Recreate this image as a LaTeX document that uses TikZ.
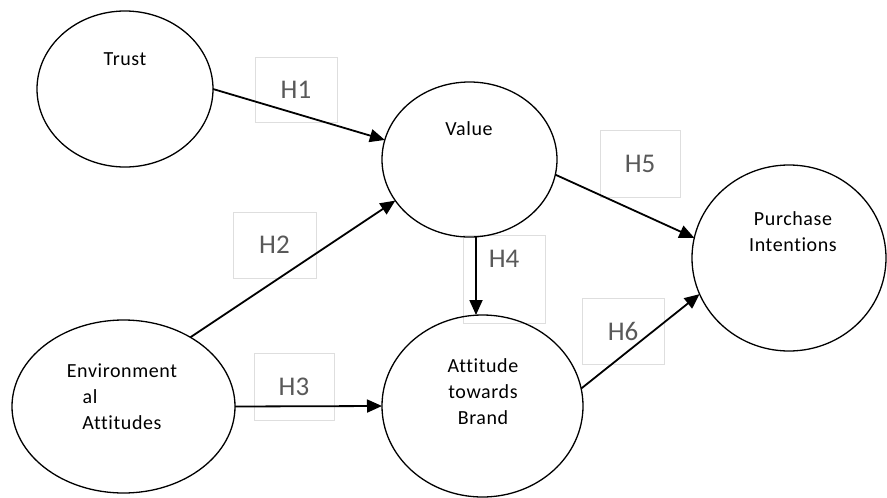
\documentclass[tikz,border=0pt]{standalone}
\usepackage{fontspec}
\setmainfont{Carlito}[Ligatures=NoCommon]
\newfontfamily\nodefont{Carlito}[Ligatures=NoCommon,LetterSpace=3]
\usetikzlibrary{shapes.geometric,arrows.meta}
\begin{document}
\begin{tikzpicture}[x=1pt,y=-1pt,
  oval/.style={ellipse,draw,line width=1.3pt,inner sep=0pt,outer sep=0pt},
  txt/.style={font=\nodefont\fontsize{20}{26}\selectfont,align=center,inner sep=0pt},
  hbox/.style={draw=black!13,line width=1pt,inner sep=0pt,font=\fontsize{27}{30}\selectfont,text=black!65},
  conn/.style={line width=1.8pt,-{Triangle[length=15pt,width=13pt]}}]
\useasboundingbox (0,0) rectangle (887,498);
% hypothesis label boxes
\node[hbox,minimum width=82pt,minimum height=65pt] (h1) at (296,89.5) {H1};
\node[hbox,minimum width=83pt,minimum height=66pt] (h2) at (274.5,245) {H2};
\node[hbox,minimum width=80pt,minimum height=67pt] (h3) at (294,386.5) {H3};
\node[hbox,minimum width=82pt,minimum height=88pt,text height=17pt,text depth=41pt] (h4) at (504,279) {H4};
\node[hbox,minimum width=80pt,minimum height=67pt] (h5) at (640,163.5) {H5};
\node[hbox,minimum width=82pt,minimum height=66pt] (h6) at (623,331) {H6};
% constructs
\node[oval,minimum width=176pt,minimum height=156pt] (trust) at (125,89) {};
\node[oval,minimum width=175pt,minimum height=155pt] (value) at (469.5,159.5) {};
\node[oval,minimum width=223pt,minimum height=173pt] (env) at (123.5,406.5) {};
\node[oval,minimum width=201pt,minimum height=182pt] (atb) at (482.5,406) {};
\node[oval,minimum width=194pt,minimum height=186pt] (purch) at (789,258) {};
\node[txt] (trustt) at (125,59) {Trust};
\node[txt] (valuet) at (469,129) {Value};
\node[txt] (envt) at (122,396.5) {Environment\\al\rule{64pt}{0pt}\\Attitudes};
\node[txt] (atbt) at (483,391.5) {Attitude\\towards\\Brand};
\node[txt] (purcht) at (793,232) {Purchase\\Intentions};
% paths
\coordinate (h4x) at (476,0);
\draw[conn] (trust.east) -- (value.167);
\draw[conn] (env.46) -- (value.209);
\draw[conn] (env.east) -- (atb.west);
\draw[conn] (value.south -| h4x) -- (atb.north -| h4x);
\draw[conn] (value.350) -- (purch.168);
\draw[conn] (atb.10) -- (purch.202);
\end{tikzpicture}
\end{document}
